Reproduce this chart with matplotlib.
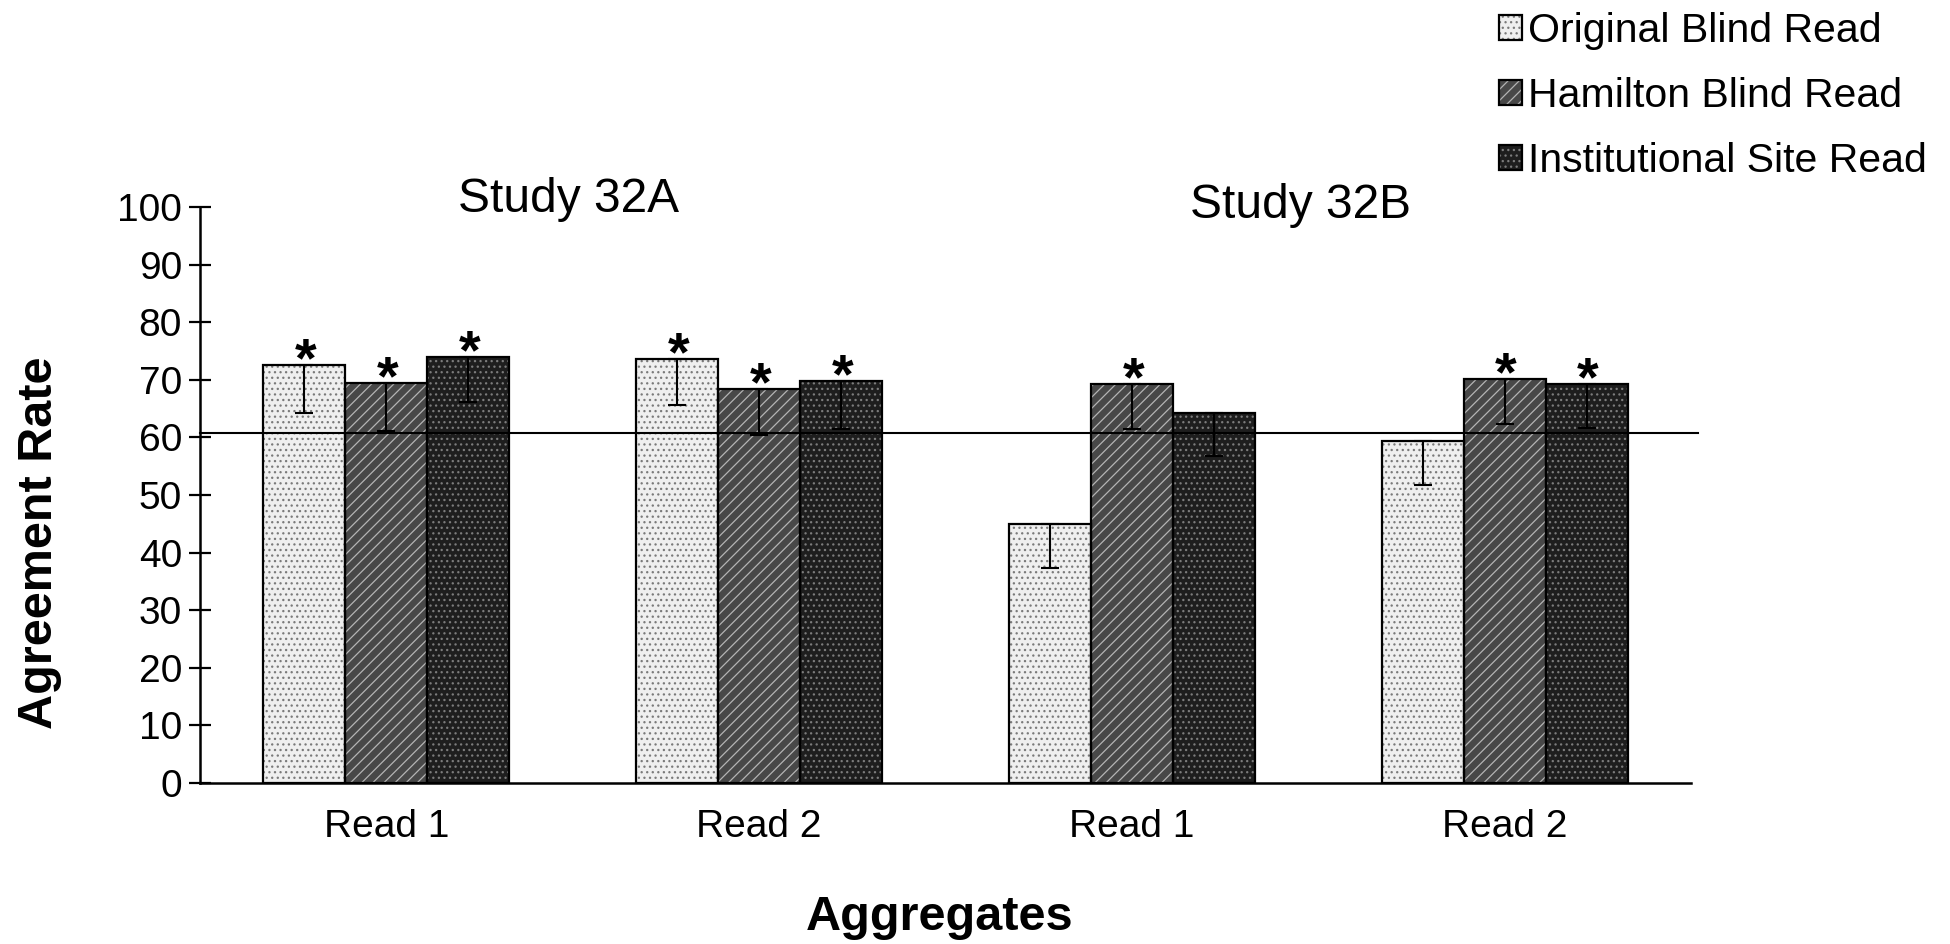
import matplotlib
matplotlib.use("Agg")
import matplotlib.pyplot as plt
import numpy as np
from matplotlib.legend_handler import HandlerTuple

# ---------------- data ----------------
categories = ["Read 1", "Read 2", "Read 1", "Read 2"]
studies = ["Study 32A", "Study 32B"]
series_names = ["Original Blind Read", "Hamilton Blind Read", "Institutional Site Read"]
original = [72.6, 73.6, 44.9, 59.3]
hamilton = [69.4, 68.4, 69.2, 70.1]
institutional = [73.9, 69.8, 64.3, 69.2]
original_err = [8.3, 8.0, 7.6, 7.6]
hamilton_err = [8.3, 8.0, 7.8, 7.8]
institutional_err = [7.8, 8.3, 7.6, 7.6]
original_sig = [1, 1, 0, 0]
hamilton_sig = [1, 1, 1, 1]
institutional_sig = [1, 1, 0, 1]
reference_rate = 60.7
yticks = [0, 10, 20, 30, 40, 50, 60, 70, 80, 90, 100]

# ---------------- style ----------------
plt.rcParams["font.family"] = ["Liberation Sans", "DejaVu Sans"]
plt.rcParams["hatch.linewidth"] = 0.9

fig = plt.figure(figsize=(19.5, 9.44), dpi=100)
W, H = 1950, 944
ax = fig.add_axes([200 / W, 1 - 783 / H, (1691 - 200) / W, (783 - 207) / H])

x = np.arange(len(categories))
width = 0.22
styles = [
    dict(face="#efefef", hatch="...", hcolor="#7a7a7a"),
    dict(face="#484848", hatch="///", hcolor="#b4b4b4"),
    dict(face="#1e1e1e", hatch="...", hcolor="#7c7c7c"),
]
values = [original, hamilton, institutional]
errs = [original_err, hamilton_err, institutional_err]
sigs = [original_sig, hamilton_sig, institutional_sig]

handles = []
for i, (vals, err, sig, st) in enumerate(zip(values, errs, sigs, styles)):
    pos = x + (i - 1) * width
    hb = ax.bar(pos, vals, width, color=st["face"], hatch=st["hatch"],
                edgecolor=st["hcolor"], linewidth=0, zorder=2)
    ob = ax.bar(pos, vals, width, fill=False, edgecolor="black",
                linewidth=1.6, zorder=3)
    ax.errorbar(pos, vals, yerr=[err, [0] * len(err)], fmt="none",
                ecolor="black", elinewidth=1.5, capsize=6.5, capthick=1.5,
                zorder=4)
    for p, v, s in zip(pos, vals, sig):
        if s:
            ax.annotate("*", xy=(p, v), xytext=(1, -8), textcoords="offset points",
                        ha="center", va="baseline", fontsize=40,
                        fontweight="bold", zorder=5)
    handles.append((hb[0], ob[0]))

ax.axhline(reference_rate, xmin=0, xmax=(1698 - 200) / (1691 - 200),
           color="black", linewidth=1.5, zorder=3.5, clip_on=False)

ax.set_xlim(-0.5, len(categories) - 0.5)
ax.set_ylim(0, 100)
ax.set_yticks(yticks)
ax.set_xticks(x)
ax.set_xticklabels(categories, fontsize=28)
ax.tick_params(axis="y", direction="inout", length=16, width=1.6,
               labelsize=28, pad=5)
ax.tick_params(axis="x", length=0, pad=19)
for side in ["top", "right"]:
    ax.spines[side].set_visible(False)
for side in ["left", "bottom"]:
    ax.spines[side].set_linewidth(1.8)

# study labels
fig.text(569 / W, 1 - 200 / H, studies[0], fontsize=34.5, ha="center", va="center")
fig.text(1301 / W, 1 - 205 / H, studies[1], fontsize=34.5, ha="center", va="center")

# axis titles
fig.text(940 / W, 1 - 917 / H, "Aggregates", fontsize=35, fontweight="bold",
         ha="center", va="center")
fig.text(40 / W, 1 - 543 / H, "Agreement Rate", fontsize=35, fontweight="bold",
         rotation=90, ha="center", va="center")

leg = fig.legend(handles, series_names, loc="upper left",
                 bbox_to_anchor=(1499 / W, 1 - 12 / H), frameon=False,
                 fontsize=29.5, handlelength=0.55, handleheight=0.55,
                 handletextpad=0.15, labelspacing=0.66, borderpad=0,
                 borderaxespad=0,
                 handler_map={tuple: HandlerTuple(ndivide=1, pad=0)})

fig.savefig("out.png", dpi=100)
